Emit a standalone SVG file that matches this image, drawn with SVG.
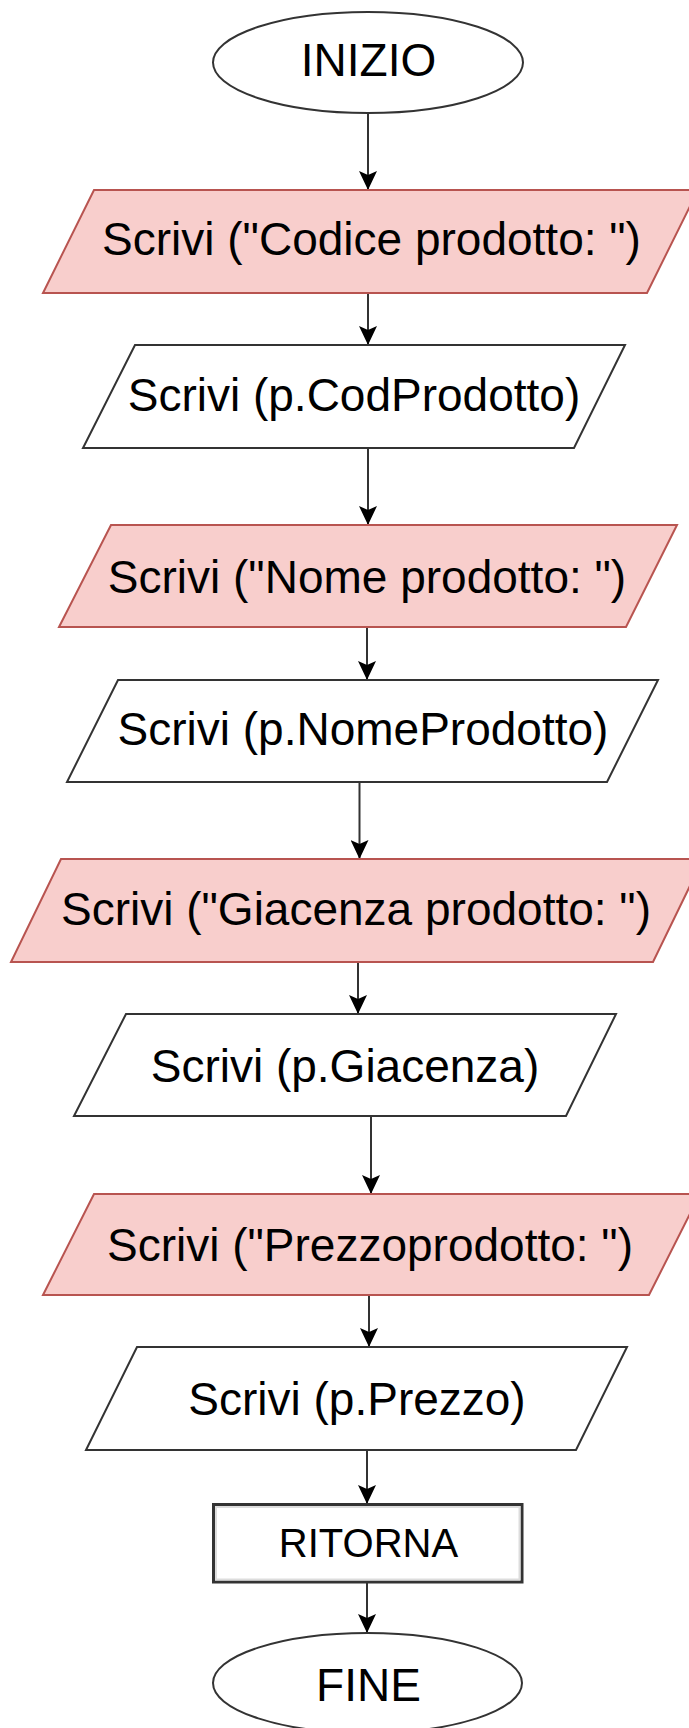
<svg xmlns="http://www.w3.org/2000/svg" width="689" height="1728" viewBox="0 0 689 1728">
  <style>
    .term { fill: #ffffff; stroke: #333333; stroke-width: 2; }
    .io-lbl { fill: #f8cecc; stroke: #b85450; stroke-width: 2; }
    .io-val { fill: #ffffff; stroke: #333333; stroke-width: 2; }
    .proc { fill: #ffffff; stroke: #333333; stroke-width: 3; }
    .proc-in { fill: none; stroke: #dddddd; stroke-width: 2; }
    .txt { font-family: "Liberation Sans", Arial, sans-serif; font-size: 46px; fill: #000000; text-anchor: middle; }
    .txt-s { font-family: "Liberation Sans", Arial, sans-serif; font-size: 40px; fill: #000000; text-anchor: middle; }
    .edge { fill: none; stroke: #333333; stroke-width: 2; marker-end: url(#arr); }
  </style>
  <defs>
    <marker id="arr" markerWidth="20" markerHeight="18" refX="19" refY="9" orient="auto" markerUnits="userSpaceOnUse" viewBox="0 0 20 18">
      <path d="M0,0 L19,9 L0,18 L4,9 Z" fill="#000000"/>
    </marker>
  </defs>
  <rect width="689" height="1728" fill="#ffffff"/>

  <g id="connectors">
    <line class="edge" x1="368" y1="113" x2="368" y2="190"/>
    <line class="edge" x1="368" y1="293" x2="368" y2="345"/>
    <line class="edge" x1="368" y1="448" x2="368" y2="525"/>
    <line class="edge" x1="367" y1="627" x2="367" y2="680"/>
    <line class="edge" x1="359.5" y1="782" x2="359.5" y2="859"/>
    <line class="edge" x1="358" y1="962" x2="358" y2="1014"/>
    <line class="edge" x1="371" y1="1116" x2="371" y2="1194"/>
    <line class="edge" x1="369" y1="1295" x2="369" y2="1347"/>
    <line class="edge" x1="367" y1="1450" x2="367" y2="1504"/>
    <line class="edge" x1="367" y1="1583" x2="367" y2="1633"/>
  </g>

  <g id="inizio">
    <ellipse class="term" cx="368" cy="62.5" rx="155" ry="50.5"/>
    <text class="txt" x="368.5" y="76">INIZIO</text>
  </g>
  <g id="scrivi-codice-label">
    <polygon class="io-lbl" points="94,190 698,190 647,293 43,293"/>
    <text class="txt" x="371.5" y="255">Scrivi ("Codice prodotto: ")</text>
  </g>
  <g id="scrivi-codice">
    <polygon class="io-val" points="135,345 625,345 574,448 83,448"/>
    <text class="txt" x="354" y="411">Scrivi (p.CodProdotto)</text>
  </g>
  <g id="scrivi-nome-label">
    <polygon class="io-lbl" points="111,525 677,525 626,627 59,627"/>
    <text class="txt" x="367" y="593">Scrivi ("Nome prodotto: ")</text>
  </g>
  <g id="scrivi-nome">
    <polygon class="io-val" points="118,680 658,680 607,782 67,782"/>
    <text class="txt" x="363" y="745">Scrivi (p.NomeProdotto)</text>
  </g>
  <g id="scrivi-giacenza-label">
    <polygon class="io-lbl" points="61,859 703,859 653,962 11,962"/>
    <text class="txt" x="356" y="925">Scrivi ("Giacenza prodotto: ")</text>
  </g>
  <g id="scrivi-giacenza">
    <polygon class="io-val" points="126,1014 616,1014 566,1116 74,1116"/>
    <text class="txt" x="345" y="1082">Scrivi (p.Giacenza)</text>
  </g>
  <g id="scrivi-prezzo-label">
    <polygon class="io-lbl" points="94,1194 700,1194 649,1295 43,1295"/>
    <text class="txt" x="370" y="1261">Scrivi ("Prezzoprodotto: ")</text>
  </g>
  <g id="scrivi-prezzo">
    <polygon class="io-val" points="137,1347 627,1347 576,1450 86,1450"/>
    <text class="txt" x="357" y="1415">Scrivi (p.Prezzo)</text>
  </g>
  <g id="ritorna">
    <rect class="proc" x="213.5" y="1504.5" width="308.5" height="77.5"/>
    <rect class="proc-in" x="216" y="1507" width="303.5" height="72.5"/>
    <text class="txt-s" x="368.5" y="1557">RITORNA</text>
  </g>
  <g id="fine">
    <ellipse class="term" cx="367.5" cy="1683" rx="154.5" ry="50"/>
    <text class="txt" x="368.5" y="1701">FINE</text>
  </g>
</svg>
